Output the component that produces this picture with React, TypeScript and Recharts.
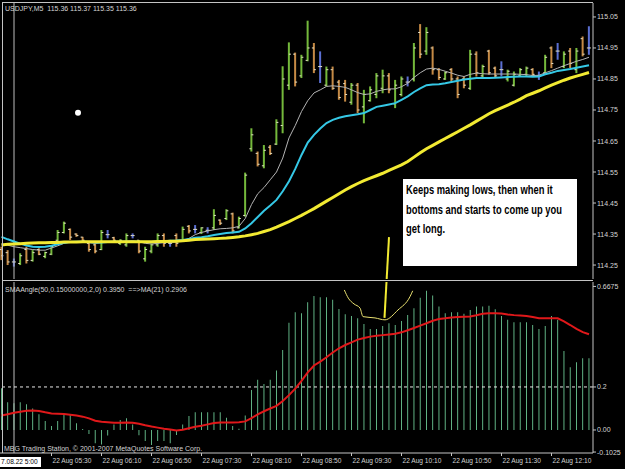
import React from 'react'
import { ComposedChart, Bar, Line, XAxis, YAxis, ReferenceLine, ReferenceDot } from 'recharts'

// M5 bars, index 0 = 04:50
const highs = [
  114.309, 114.298, 114.271, 114.288, 114.309, 114.298, 114.304, 114.293, 114.315, 114.363,
  114.39, 114.368, 114.352, 114.341, 114.325, 114.32, 114.363, 114.363, 114.341, 114.333,
  114.352, 114.352, 114.331, 114.309, 114.32, 114.352, 114.352, 114.331, 114.352, 114.374,
  114.379, 114.379, 114.372, 114.372, 114.43, 114.397, 114.43, 114.419, 114.406, 114.548,
  114.691, 114.616, 114.637, 114.637, 114.72, 114.891, 114.968, 114.935, 114.928, 115.038,
  114.966, 114.939, 114.89, 114.89, 114.847, 114.847, 114.837, 114.837, 114.815, 114.826,
  114.869, 114.88, 114.869, 114.847, 114.858, 114.858, 114.966, 115.027, 115.017, 114.955,
  114.885, 114.874, 114.885, 114.858, 114.858, 114.944, 114.939, 114.896, 114.944, 114.89,
  114.907, 114.88, 114.874, 114.885, 114.89, 114.885, 114.874, 114.928, 114.955, 114.966,
  114.939, 114.95, 114.95, 114.987, 115.02,
]
const lows = [
  114.266, 114.25, 114.245, 114.25, 114.255, 114.261, 114.282, 114.272, 114.282, 114.325,
  114.352, 114.331, 114.341, 114.325, 114.293, 114.288, 114.298, 114.336, 114.325, 114.315,
  114.309, 114.336, 114.288, 114.261, 114.288, 114.309, 114.309, 114.309, 114.309, 114.325,
  114.352, 114.352, 114.35, 114.352, 114.363, 114.379, 114.395, 114.352, 114.368, 114.406,
  114.616, 114.568, 114.562, 114.605, 114.637, 114.675, 114.815, 114.826, 114.853, 114.907,
  114.869, 114.837, 114.826, 114.815, 114.783, 114.777, 114.767, 114.74, 114.707, 114.777,
  114.788, 114.804, 114.804, 114.756, 114.794, 114.826, 114.842, 114.917, 114.928, 114.864,
  114.847, 114.847, 114.842, 114.788, 114.82, 114.815, 114.858, 114.853, 114.864, 114.853,
  114.858, 114.842, 114.826, 114.858, 114.858, 114.858, 114.847, 114.864, 114.885, 114.912,
  114.885, 114.885, 114.869, 114.923, 114.928,
]
const opens = [
  114.3, 114.29, 114.26, 114.255, 114.3, 114.265, 114.3, 114.278, 114.285, 114.33,
  114.355, 114.365, 114.35, 114.34, 114.32, 114.315, 114.3, 114.348, 114.338, 114.32,
  114.315, 114.345, 114.33, 114.27, 114.295, 114.315, 114.345, 114.32, 114.345, 114.33,
  114.375, 114.365, 114.355, 114.362, 114.37, 114.395, 114.4, 114.415, 114.37, 114.41,
  114.625, 114.61, 114.57, 114.63, 114.64, 114.7, 114.83, 114.93, 114.86, 114.91,
  114.95, 114.89, 114.83, 114.88, 114.84, 114.835, 114.775, 114.83, 114.76, 114.78,
  114.8, 114.82, 114.86, 114.77, 114.8, 114.84, 114.85, 115.0, 114.94, 114.95,
  114.88, 114.85, 114.88, 114.85, 114.85, 114.82, 114.93, 114.86, 114.94, 114.885,
  114.88, 114.85, 114.83, 114.86, 114.865, 114.88, 114.86, 114.87, 114.95, 114.94,
  114.89, 114.94, 114.88, 114.98, 114.95,
]
const closes = [
  114.28, 114.26, 114.26, 114.28, 114.265, 114.29, 114.285, 114.29, 114.31, 114.355,
  114.385, 114.34, 114.345, 114.33, 114.3, 114.295, 114.355, 114.348, 114.33, 114.33,
  114.345, 114.345, 114.295, 114.3, 114.315, 114.345, 114.32, 114.32, 114.32, 114.365,
  114.36, 114.365, 114.37, 114.362, 114.41, 114.385, 114.425, 114.36, 114.4, 114.54,
  114.67, 114.575, 114.62, 114.61, 114.71, 114.85, 114.93, 114.84, 114.92, 114.95,
  114.88, 114.89, 114.88, 114.82, 114.79, 114.8, 114.83, 114.75, 114.8, 114.815,
  114.86, 114.86, 114.815, 114.83, 114.85, 114.84, 114.95, 114.93, 115.0, 114.88,
  114.855, 114.87, 114.85, 114.8, 114.83, 114.93, 114.87, 114.89, 114.87, 114.86,
  114.88, 114.875, 114.865, 114.88, 114.885, 114.865, 114.86, 114.92, 114.9, 114.94,
  114.93, 114.9, 114.94, 114.93, 114.95,
]
const fastMa = [
  114.318, 114.314, 114.309, 114.306, 114.303, 114.3, 114.298, 114.298, 114.305, 114.312,
  114.32, 114.324, 114.325, 114.324, 114.322, 114.32, 114.322, 114.325, 114.326, 114.326,
  114.327, 114.328, 114.325, 114.32, 114.318, 114.32, 114.322, 114.323, 114.324, 114.328,
  114.336, 114.348, 114.355, 114.36, 114.364, 114.367, 114.368, 114.37, 114.375, 114.4,
  114.445, 114.48, 114.5, 114.525, 114.55, 114.595, 114.66, 114.7, 114.745, 114.78,
  114.805, 114.815, 114.826, 114.828, 114.826, 114.823, 114.815, 114.806, 114.8, 114.802,
  114.81, 114.815, 114.818, 114.818, 114.825, 114.836, 114.855, 114.87, 114.882, 114.885,
  114.881, 114.875, 114.869, 114.862, 114.858, 114.865, 114.869, 114.867, 114.866, 114.866,
  114.866, 114.866, 114.866, 114.865, 114.864, 114.861, 114.862, 114.87, 114.877, 114.885,
  114.893, 114.9, 114.907, 114.913, 114.92,
]
const midMa = [
  114.341, 114.333, 114.326, 114.319, 114.313, 114.309, 114.308, 114.309, 114.312, 114.317,
  114.322, 114.324, 114.325, 114.325, 114.324, 114.323, 114.323, 114.324, 114.325, 114.325,
  114.325, 114.325, 114.325, 114.324, 114.324, 114.326, 114.327, 114.328, 114.329, 114.331,
  114.334, 114.338, 114.34, 114.343, 114.347, 114.35, 114.353, 114.355, 114.357, 114.368,
  114.385, 114.405, 114.425, 114.442, 114.46, 114.488, 114.52, 114.56, 114.605, 114.645,
  114.67, 114.69, 114.708, 114.718, 114.725, 114.73, 114.733, 114.736, 114.74, 114.75,
  114.76, 114.764, 114.768, 114.772, 114.783, 114.794, 114.808, 114.82, 114.83, 114.832,
  114.833, 114.836, 114.84, 114.844, 114.848, 114.851, 114.853, 114.853, 114.853, 114.854,
  114.855, 114.856, 114.857, 114.858, 114.858, 114.857, 114.858, 114.865, 114.87, 114.876,
  114.879, 114.882, 114.886, 114.89, 114.894,
]
const slowMa = [
  114.315, 114.317, 114.318, 114.319, 114.32, 114.321, 114.322, 114.322, 114.323, 114.323,
  114.324, 114.324, 114.324, 114.325, 114.325, 114.325, 114.325, 114.325, 114.325, 114.325,
  114.325, 114.325, 114.325, 114.325, 114.325, 114.326, 114.326, 114.327, 114.327, 114.328,
  114.33, 114.332, 114.333, 114.334, 114.335, 114.336, 114.337, 114.339, 114.341, 114.344,
  114.348, 114.352, 114.358, 114.364, 114.372, 114.381, 114.39, 114.4, 114.41, 114.421,
  114.432, 114.444, 114.456, 114.468, 114.48, 114.492, 114.503, 114.513, 114.522, 114.53,
  114.538, 114.546, 114.555, 114.564, 114.573, 114.584, 114.598, 114.612, 114.625, 114.636,
  114.647, 114.658, 114.669, 114.68, 114.691, 114.702, 114.714, 114.726, 114.738, 114.748,
  114.757, 114.766, 114.775, 114.785, 114.796, 114.804, 114.812, 114.821, 114.83, 114.838,
  114.846, 114.853, 114.859, 114.865, 114.871,
]
const smaAngle = [
  0.194, 0.129, 0.124, 0.129, 0.12, 0.1, 0.073, 0.042, 0.019, 0.042,
  0.07, 0.07, 0.031, 0.005, -0.019, -0.062, -0.067, -0.026, 0.026, 0.047,
  0.054, 0.026, -0.025, -0.051, -0.07, -0.051, -0.051, -0.062, -0.023, 0.026,
  0.065, 0.082, 0.082, 0.082, 0.082, 0.082, 0.057, 0.019, 0.006, 0.067,
  0.186, 0.233, 0.214, 0.233, 0.276, 0.372, 0.499, 0.547, 0.543, 0.594,
  0.623, 0.617, 0.617, 0.605, 0.563, 0.538, 0.53, 0.519, 0.493, 0.47,
  0.47, 0.484, 0.496, 0.488, 0.507, 0.535, 0.566, 0.615, 0.647, 0.625,
  0.574, 0.543, 0.547, 0.547, 0.54, 0.558, 0.574, 0.574, 0.578, 0.561,
  0.53, 0.512, 0.501, 0.501, 0.501, 0.488, 0.47, 0.484, 0.53, 0.512,
  0.367, 0.292, 0.315, 0.333, 0.333,
]
const angleMa = [
  0.067, 0.073, 0.08, 0.085, 0.089, 0.091, 0.088, 0.082, 0.077, 0.076,
  0.074, 0.071, 0.067, 0.062, 0.054, 0.043, 0.038, 0.036, 0.034, 0.034,
  0.035, 0.034, 0.029, 0.022, 0.016, 0.011, 0.006, 0.002, -0.002, 0.001,
  0.008, 0.015, 0.02, 0.026, 0.032, 0.035, 0.035, 0.035, 0.036, 0.04,
  0.055, 0.073, 0.087, 0.1, 0.112, 0.135, 0.162, 0.192, 0.228, 0.268,
  0.3, 0.318, 0.338, 0.36, 0.38, 0.395, 0.407, 0.42, 0.428, 0.434,
  0.438, 0.441, 0.444, 0.447, 0.454, 0.464, 0.474, 0.485, 0.496, 0.508,
  0.516, 0.519, 0.523, 0.525, 0.527, 0.528, 0.533, 0.54, 0.543, 0.543,
  0.541, 0.537, 0.534, 0.532, 0.53, 0.525, 0.52, 0.519, 0.519, 0.519,
  0.505, 0.488, 0.47, 0.455, 0.445,
]

const timeTickIdx = [8, 16, 24, 32, 40, 48, 56, 64, 72, 80, 88]
const timeTickLabels = [
  '22 Aug 05:30', '22 Aug 06:10', '22 Aug 06:50', '22 Aug 07:30', '22 Aug 08:10', '22 Aug 08:50',
  '22 Aug 09:30', '22 Aug 10:10', '22 Aug 10:50', '22 Aug 11:30', '22 Aug 12:10',
]
const priceTicks = [114.25, 114.35, 114.45, 114.55, 114.65, 114.75, 114.85, 114.95, 115.05]
const angleTicks = [-0.1025, 0, 0.2, 0.6675]
const angleTickLabels = ['-0.1025', '0.00', '0.2', '0.6675']
const noteLines = ['Keeps making lows, then when it', 'bottoms and starts to come up you', 'get long.']

// hand drawn markup on the chart (bar index, value)
const scribble = [
  { i: 54.85, v: 0.651 }, { i: 55.49, v: 0.613 }, { i: 56.4, v: 0.586 }, { i: 57.36, v: 0.567 },
  { i: 57.84, v: 0.527 }, { i: 59.76, v: 0.521 }, { i: 61.36, v: 0.512 }, { i: 63.44, v: 0.558 },
  { i: 65.36, v: 0.62 }, { i: 65.79, v: 0.647 },
]
const arrowDot = { i: 12.24, price: 114.741 }

const priceRows = highs.map((h, i) => ({
  i,
  range: [lows[i], h],
  high: h,
  low: lows[i],
  open: opens[i],
  close: closes[i],
  fast: fastMa[i],
  mid: midMa[i],
  slow: slowMa[i],
}))
const angleRows = smaAngle.map((v, i) => ({ i, osc: v, ma: angleMa[i] }))

const X_DOMAIN = [-0.24, 94.64]
const AXIS = '#c4c4c4'
const TXT = '#d4d4d4'
const FONT = "'Liberation Sans', Arial, sans-serif"

function OhlcBar(props: any) {
  const { x, y, width, height, payload } = props
  if (x == null || y == null || !payload) return null
  const top = Math.min(y, y + height)
  const h = Math.abs(height)
  const cx = x + width / 2
  const span = payload.high - payload.low || 1e-6
  const py = (v: number) => top + ((payload.high - v) / span) * h
  let color = '#c58a45'
  if (payload.close > payload.open) color = '#74b83b'
  else if (payload.close === payload.open) color = '#5b6fd2'
  return (
    <g>
      <line x1={cx} x2={cx} y1={top} y2={top + h} stroke={color} strokeWidth={2} />
      <line x1={cx - 2} x2={cx} y1={py(payload.open)} y2={py(payload.open)} stroke="#e6e2c8" strokeWidth={1} />
      <line x1={cx} x2={cx + 2} y1={py(payload.close)} y2={py(payload.close)} stroke="#e6e2c8" strokeWidth={1} />
    </g>
  )
}

function RightTick(props: any) {
  const { x, y, payload, labels, ticks } = props
  let label = payload.value.toFixed(2)
  if (labels) label = labels[ticks.indexOf(payload.value)]
  return (
    <text x={x} y={y} dy={2.5} fill={TXT} fontSize={7} fontFamily={FONT} textAnchor="start">
      {label}
    </text>
  )
}

function TimeTick(props: any) {
  const { x, y, payload } = props
  const label = timeTickLabels[timeTickIdx.indexOf(payload.value)]
  return (
    <text x={x + 1} y={y + 5} fill={TXT} fontSize={6.6} fontFamily={FONT} textAnchor="start">
      {label}
    </text>
  )
}

const textStyle: React.CSSProperties = {
  position: 'absolute',
  color: TXT,
  fontSize: 7,
  fontFamily: FONT,
  whiteSpace: 'pre',
  lineHeight: '9px',
}

export default function App() {
  return (
    <div style={{ position: 'absolute', left: 0, top: 0, width: 625, height: 469, background: '#000', overflow: 'hidden' }}>
      <div style={{ position: 'absolute', left: 0, top: 0 }}>
        <ComposedChart width={625} height={281} data={priceRows} margin={{ top: 3, right: 0, bottom: 2, left: 0 }}>
          <XAxis dataKey="i" type="number" domain={X_DOMAIN} allowDataOverflow hide />
          <YAxis
            orientation="right"
            width={32}
            domain={[114.205, 115.095]}
            allowDataOverflow
            ticks={priceTicks}
            interval={0}
            axisLine={{ stroke: AXIS }}
            tickLine={{ stroke: AXIS }}
            tickSize={3}
            tickMargin={1}
            tick={<RightTick />}
          />
          <ReferenceLine x={2} stroke="#bdbdbd" strokeWidth={1} />
          <Bar dataKey="range" barSize={2} shape={<OhlcBar />} isAnimationActive={false} />
          <Line dataKey="fast" stroke="#b4b4b4" strokeWidth={1} dot={false} isAnimationActive={false} />
          <Line dataKey="mid" stroke="#35c8e6" strokeWidth={2} dot={false} isAnimationActive={false} />
          <Line dataKey="slow" stroke="#f2ea32" strokeWidth={3} dot={false} isAnimationActive={false} />
          <ReferenceDot x={arrowDot.i} y={arrowDot.price} r={3} fill="#ffffff" stroke="none" />
          <ReferenceLine
            segment={[{ x: 62.0, y: 114.34 }, { x: 61.28, y: 114.079 }]}
            stroke="#f2ea32"
            strokeWidth={2}
            ifOverflow="hidden"
          />
        </ComposedChart>
      </div>
      <div style={{ position: 'absolute', left: 0, top: 281 }}>
        <ComposedChart width={625} height={188} data={angleRows} margin={{ top: 1, right: 0, bottom: 0, left: 0 }}>
          <XAxis
            dataKey="i"
            type="number"
            domain={X_DOMAIN}
            allowDataOverflow
            ticks={timeTickIdx}
            interval={0}
            height={16}
            axisLine={{ stroke: AXIS }}
            tickLine={{ stroke: AXIS }}
            tickSize={3}
            tick={<TimeTick />}
          />
          <YAxis
            orientation="right"
            width={32}
            domain={[-0.107, 0.688]}
            allowDataOverflow
            ticks={angleTicks}
            interval={0}
            axisLine={{ stroke: AXIS }}
            tickLine={{ stroke: AXIS }}
            tickSize={3}
            tickMargin={1}
            tick={<RightTick labels={angleTickLabels} ticks={angleTicks} />}
          />
          <ReferenceLine x={2} stroke="#bdbdbd" strokeWidth={1} />
          <ReferenceLine y={0.2} stroke="#e8e8e8" strokeDasharray="3 3" strokeWidth={1} />
          <Bar dataKey="osc" barSize={2} fill="#72d29c" isAnimationActive={false} />
          <Line dataKey="ma" stroke="#e0181a" strokeWidth={2} dot={false} isAnimationActive={false} />
          <Line
            data={scribble}
            dataKey="v"
            stroke="#e8e070"
            strokeWidth={1}
            dot={false}
            type="monotone"
            isAnimationActive={false}
          />
          <ReferenceLine
            segment={[{ x: 62.0, y: 0.898 }, { x: 61.28, y: 0.521 }]}
            stroke="#f2ea32"
            strokeWidth={2}
            ifOverflow="hidden"
          />
        </ComposedChart>
      </div>

      {/* window frame */}
      <div style={{ position: 'absolute', left: 2, top: 2, width: 591, height: 1, background: AXIS }} />
      <div style={{ position: 'absolute', left: 2, top: 2, width: 1, height: 451, background: AXIS }} />
      <div style={{ position: 'absolute', left: 2, top: 280, width: 591, height: 1, background: AXIS }} />

      <div style={{ ...textStyle, left: 5, top: 4 }}>USDJPY,M5  115.36 115.37 115.35 115.36</div>
      <div style={{ ...textStyle, left: 5, top: 285 }}>SMAAngle(50,0.15000000,2,0) 0.3950  ==&gt;MA(21) 0.2906</div>
      <div style={{ ...textStyle, left: 4, top: 444 }}>MBG Trading Station, © 2001-2007 MetaQuotes Software Corp.</div>

      <div
        style={{
          position: 'absolute',
          left: 0,
          top: 457,
          width: 41,
          height: 10,
          background: '#fff',
        }}
      >
        <div style={{ ...textStyle, color: '#000', left: 1, top: 0, fontSize: 6.6 }}>7.08.22 5:00</div>
      </div>

      <div
        style={{
          position: 'absolute',
          left: 402,
          top: 178,
          width: 174,
          height: 86,
          background: '#fff',
          border: '1px solid #000',
          color: '#000',
          fontFamily: FONT,
          fontWeight: 700,
          fontSize: 13,
          lineHeight: '19.5px',
          paddingTop: 1,
          boxSizing: 'content-box',
          overflow: 'hidden',
        }}
      >
        {noteLines.map((t) => (
          <div
            key={t}
            style={{ whiteSpace: 'nowrap', transform: 'scaleX(0.72)', transformOrigin: '3px 0', paddingLeft: 3 }}
          >
            {t}
          </div>
        ))}
      </div>
    </div>
  )
}
